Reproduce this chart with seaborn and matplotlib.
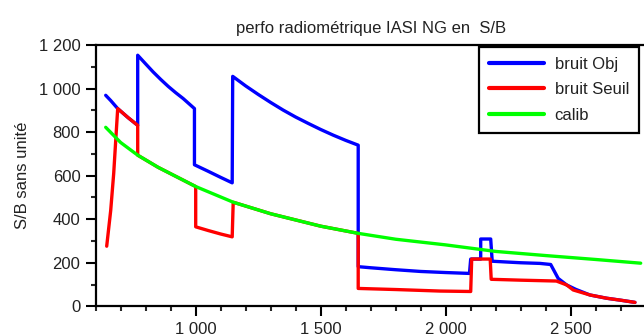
import numpy as np
import pandas as pd
import matplotlib
matplotlib.use("Agg")
import matplotlib.pyplot as plt
from matplotlib.ticker import MultipleLocator, FuncFormatter
import seaborn as sns

# ---- data ----
obj_x = [640, 660, 688, 730, 768, 768, 800, 830, 860, 890, 920, 950, 995,
         995, 1050, 1100, 1146, 1148, 1200, 1250, 1300, 1350, 1400, 1450,
         1500, 1550, 1600, 1650,
         1650, 1700, 1800, 1900, 2000, 2095, 2100, 2140, 2140, 2180, 2186,
         2250, 2300, 2377, 2420, 2450, 2484, 2520, 2577, 2644, 2700, 2757]
obj_y = [969, 945, 908, 866, 831, 1153, 1113, 1076, 1042, 1010, 981, 954, 908,
         650, 620, 592, 567, 1056, 1012, 973, 936, 901, 869, 840,
         812, 786, 762, 740,
         182, 177, 168, 160, 155, 151, 217, 217, 309, 309, 207,
         203, 200, 197, 192, 128, 98, 78, 52, 37, 28, 18]

seuil_x = [644, 660, 672, 680, 688, 730, 768, 768, 850, 937, 1000,
           1000, 1050, 1100, 1146, 1150, 1300, 1500, 1650,
           1650, 1800, 1977, 2100, 2104, 2178, 2182, 2300, 2443, 2484,
           2510, 2577, 2644, 2700, 2757]
seuil_y = [276, 440, 610, 760, 908, 866, 831, 694, 638, 587, 550,
           365, 348, 332, 319, 478, 425, 368, 335,
           82, 77, 70, 68, 217, 217, 124, 120, 116, 98,
           75, 52, 37, 28, 18]

calib_x = [640, 700, 768, 850, 937, 1000, 1150, 1300, 1500, 1650, 1800,
           2000, 2200, 2400, 2600, 2780]
calib_y = [822, 752, 694, 638, 587, 550, 478, 425, 368, 335, 308,
           282, 252, 233, 215, 198]

series_names = ["bruit Obj", "bruit Seuil", "calib"]
series_colors = ["#0000ff", "#ff0000", "#00ff00"]

frames = []
for name, xs, ys in zip(series_names, [obj_x, seuil_x, calib_x],
                        [obj_y, seuil_y, calib_y]):
    frames.append(pd.DataFrame({"x": xs, "y": ys, "serie": name}))
df = pd.concat(frames, ignore_index=True)

sns.set_style("ticks")
plt.rcParams["font.family"] = ["Liberation Sans", "DejaVu Sans"]

fig = plt.figure(figsize=(6.44, 3.36), dpi=100)
ax = fig.add_axes([95.7 / 644, 1 - 306.3 / 336, 550 / 644, (306.3 - 45) / 336])

sns.lineplot(data=df, x="x", y="y", hue="serie", hue_order=series_names,
             palette=dict(zip(series_names, series_colors)),
             estimator=None, sort=False, linewidth=2.4, ax=ax, legend=True)

ax.set_xlim(600, 2800)
ax.set_ylim(0, 1200)
ax.xaxis.set_major_locator(MultipleLocator(500))
ax.xaxis.set_minor_locator(MultipleLocator(100))
ax.yaxis.set_major_locator(MultipleLocator(200))
ax.yaxis.set_minor_locator(MultipleLocator(100))
ax.yaxis.set_major_formatter(FuncFormatter(lambda v, p: f"{v:,.0f}".replace(",", " ")))

def xfmt(v, p):
    if v < 1000:
        return ""
    return f"{v:,.0f}".replace(",", " ")
ax.xaxis.set_major_formatter(FuncFormatter(xfmt))

ax.tick_params(axis="both", which="major", length=7, width=1.5,
               labelsize=12, colors="black", pad=4)
ax.tick_params(axis="both", which="minor", length=3.5, width=1.5)
ax.tick_params(axis="both", labelcolor="#222222")
for s in ax.spines.values():
    s.set_linewidth(1.6)
    s.set_color("black")

ax.set_xlabel("")
ax.set_ylabel("S/B sans unité", fontsize=12, color="#222222", labelpad=6)
ax.set_title("perfo radiométrique IASI NG en  S/B", fontsize=12,
             color="#222222", pad=9)

handles, labels = ax.get_legend_handles_labels()
leg = ax.legend(handles, labels, loc="upper right",
                bbox_to_anchor=(639 / 644, 1 - 47 / 336),
                bbox_transform=fig.transFigure, borderaxespad=0,
                fancybox=False, framealpha=1, edgecolor="black",
                fontsize=12, handlelength=3.3, labelspacing=0.62,
                handletextpad=0.65, borderpad=0.6)
leg.get_frame().set_linewidth(1.6)
for t in leg.get_texts():
    t.set_color("#222222")
for h in leg.get_lines():
    h.set_linewidth(3)

fig.savefig("out.png", dpi=100)
